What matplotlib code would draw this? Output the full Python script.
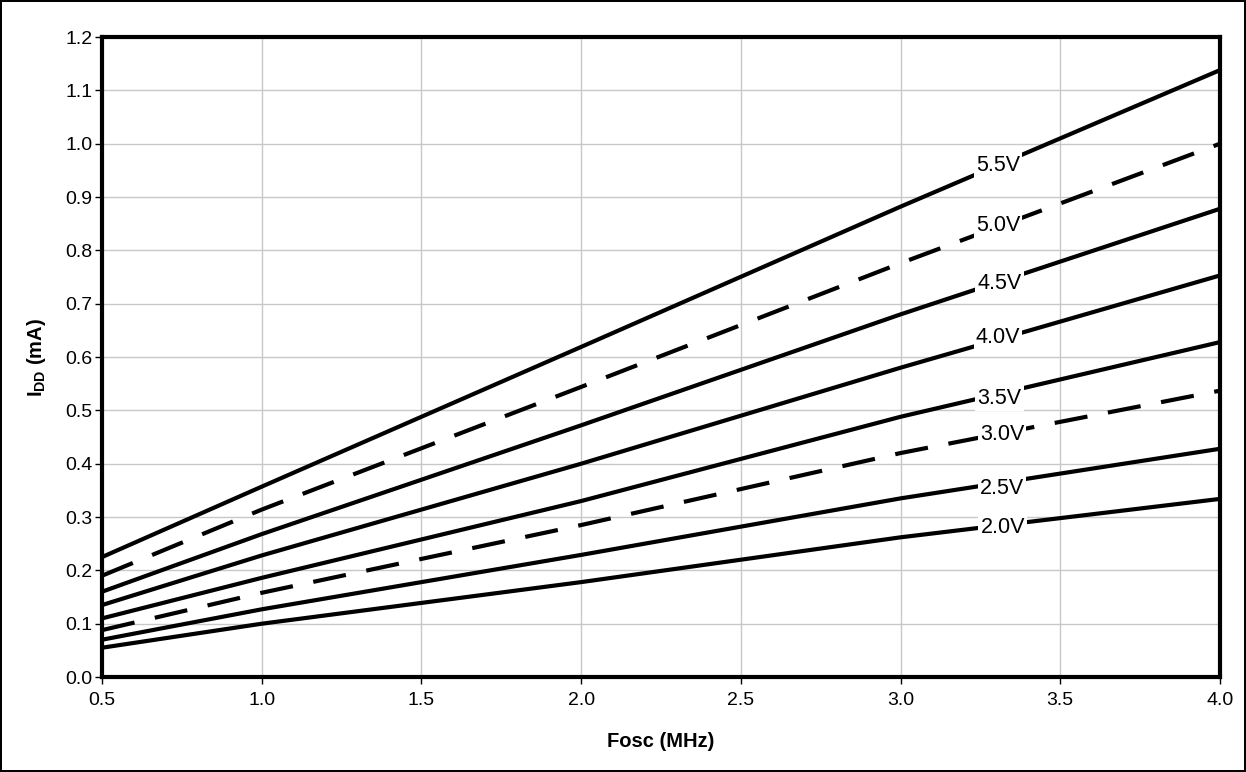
import matplotlib.pyplot as plt

plt.rcParams['font.family'] = ['Liberation Sans', 'DejaVu Sans']
plt.rcParams['mathtext.fontset'] = 'custom'
plt.rcParams['mathtext.rm'] = 'Liberation Sans:bold'
plt.rcParams['mathtext.bf'] = 'Liberation Sans:bold'

# 频率 (MHz)
fosc = [0.5, 1.0, 2.0, 3.0, 4.0]

# 各电压下的 IDD (mA)
idd_20 = [0.055, 0.100, 0.178, 0.262, 0.334]
idd_25 = [0.070, 0.127, 0.229, 0.335, 0.428]
idd_30 = [0.088, 0.158, 0.285, 0.420, 0.537]
idd_35 = [0.110, 0.186, 0.330, 0.488, 0.628]
idd_40 = [0.135, 0.228, 0.400, 0.580, 0.753]
idd_45 = [0.160, 0.268, 0.472, 0.680, 0.878]
idd_50 = [0.190, 0.314, 0.544, 0.776, 1.000]
idd_55 = [0.225, 0.357, 0.619, 0.882, 1.138]

series = [idd_55, idd_50, idd_45, idd_40, idd_35, idd_30, idd_25, idd_20]
dashed = [False, True, False, False, False, True, False, False]
labels = ['5.5V', '5.0V', '4.5V', '4.0V', '3.5V', '3.0V', '2.5V', '2.0V']
label_x = [3.305, 3.305, 3.31, 3.305, 3.31, 3.318, 3.318, 3.32]
label_y = [0.960, 0.846, 0.737, 0.636, 0.523, 0.454, 0.354, 0.281]

fig = plt.figure(figsize=(12.46, 7.72), dpi=100)
fig.patch.set_edgecolor('black')
fig.patch.set_linewidth(1.5)
ax = fig.add_axes([0.0819, 0.123, 0.8972, 0.829])

for vals, d in zip(series, dashed):
    if d:
        ax.plot(fosc, vals, color='black', lw=3, dashes=(8, 5), solid_capstyle='butt',
                dash_capstyle='butt', zorder=3)
    else:
        ax.plot(fosc, vals, color='black', lw=3, zorder=3)

for lab, x, y in zip(labels, label_x, label_y):
    ax.text(x, y, lab, fontsize=15.5, ha='center', va='center', zorder=4,
            bbox=dict(facecolor='white', edgecolor='none', pad=1.5))

ax.set_xlim(0.5, 4.0)
ax.set_ylim(0.0, 1.2)
ax.set_xticks([0.5, 1.0, 1.5, 2.0, 2.5, 3.0, 3.5, 4.0])
ax.set_yticks([i / 10 for i in range(13)])
ax.xaxis.set_major_formatter(plt.FormatStrFormatter('%.1f'))
ax.yaxis.set_major_formatter(plt.FormatStrFormatter('%.1f'))
ax.tick_params(labelsize=14, length=5, width=1, direction='out')
ax.tick_params(axis='x', pad=6)
ax.tick_params(axis='y', pad=2)
ax.grid(True, color='#c8c8c8', lw=1)
ax.set_axisbelow(True)
for s in ax.spines.values():
    s.set_linewidth(3)

ax.set_xlabel('Fosc (MHz)', fontsize=14.5, fontweight='bold', labelpad=16)
ax.set_ylabel(r'I$_{\mathregular{DD}}$ (mA)', fontsize=14.5, fontweight='bold', labelpad=12)

fig.savefig('out.png', dpi=100)
